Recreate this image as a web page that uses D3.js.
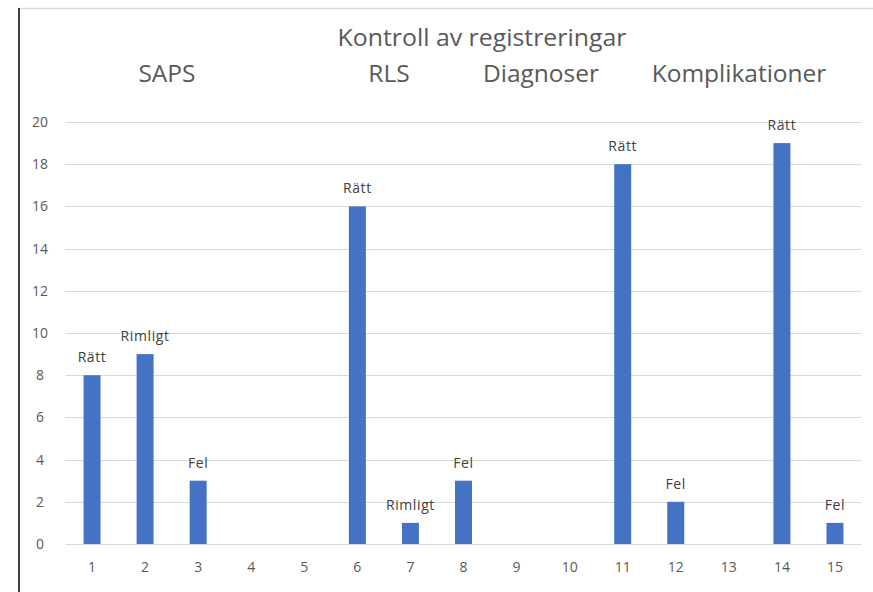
<!DOCTYPE html>
<html><head><meta charset="utf-8">
<script src="https://cdn.jsdelivr.net/npm/d3@7"></script>
<style>
body{margin:0;background:#fff;}
svg{display:block;}
</style></head>
<body>
<script>
const categories = ["1","2","3","4","5","6","7","8","9","10","11","12","13","14","15"];
const values = [8,9,3,0,0,16,1,3,0,0,18,2,0,19,1];
const barLabels = ["Rätt","Rimligt","Fel","","","Rätt","Rimligt","Fel","","","Rätt","Fel","","Rätt","Fel"];
const yTicks = [0,2,4,6,8,10,12,14,16,18,20];
const title = "Kontroll av registreringar";
const groupTitles = ["SAPS","RLS","Diagnoser","Komplikationer"];
const groupTitleX = [167,389,541,739];

const W=873, H=592;
const svg = d3.select("body").append("svg").attr("width",W).attr("height",H);
const font = "'Open Sans',sans-serif";
const lblFont = "'Open Sans','DejaVu Sans',sans-serif";

// frame lines
svg.append("line").attr("x1",19).attr("x2",W).attr("y1",8.5).attr("y2",8.5).attr("stroke","#d9d9d9").attr("stroke-width",1.5);
svg.append("line").attr("x1",19).attr("x2",19).attr("y1",8).attr("y2",H).attr("stroke","#404040").attr("stroke-width",2);

const x = d3.scaleBand().domain(categories).range([65.5,861.5]).paddingInner(0.68).paddingOuter(0.34);
const y = d3.scaleLinear().domain([0,20]).range([544,122]);

// gridlines
svg.append("g").selectAll("line").data(yTicks).join("line")
  .attr("x1",65.5).attr("x2",861.5)
  .attr("y1",d=>Math.round(y(d))+0.5).attr("y2",d=>Math.round(y(d))+0.5)
  .attr("stroke","#d9d9d9").attr("stroke-width",1);

// y axis
const yAxis = d3.axisLeft(y).tickValues(yTicks).tickSize(0).tickPadding(0);
const gy = svg.append("g").attr("transform","translate(48,0)").call(yAxis);
gy.select(".domain").remove();
gy.selectAll("text").attr("font-family",lblFont).attr("font-size",14).attr("fill","#595959").attr("text-anchor","middle").attr("dx",-8);

// x axis
const xAxis = d3.axisBottom(x).tickSize(0).tickPadding(0);
const gx = svg.append("g").attr("transform","translate(0,562)").call(xAxis);
gx.select(".domain").remove();
gx.selectAll("text").attr("font-family",lblFont).attr("font-size",14).attr("fill","#595959").attr("dy","0.71em");

// bars
svg.append("g").selectAll("rect").data(values).join("rect")
  .attr("x",(d,i)=>x(categories[i]))
  .attr("y",d=>y(d))
  .attr("width",x.bandwidth())
  .attr("height",d=>y(0)-y(d))
  .attr("fill","#4472C4");

// bar labels
svg.append("g").selectAll("text").data(values).join("text")
  .attr("x",(d,i)=>x(categories[i])+x.bandwidth()/2)
  .attr("y",d=>y(d)-13)
  .attr("text-anchor","middle")
  .attr("font-family",lblFont).attr("font-size",14).attr("letter-spacing",0.6).attr("fill","#404040")
  .text((d,i)=>barLabels[i]);

// titles
svg.append("text").attr("x",482).attr("y",46).attr("text-anchor","middle")
  .attr("font-family",font).attr("font-size",24).attr("fill","#595959")
  .attr("textLength",289).attr("lengthAdjust","spacingAndGlyphs").text(title);
svg.append("g").selectAll("text").data(groupTitles).join("text")
  .attr("x",(d,i)=>groupTitleX[i])
  .attr("y",82).attr("text-anchor","middle")
  .attr("font-family",font).attr("font-size",24.5).attr("fill","#595959")
  .text(d=>d);
</script>
</body></html>
